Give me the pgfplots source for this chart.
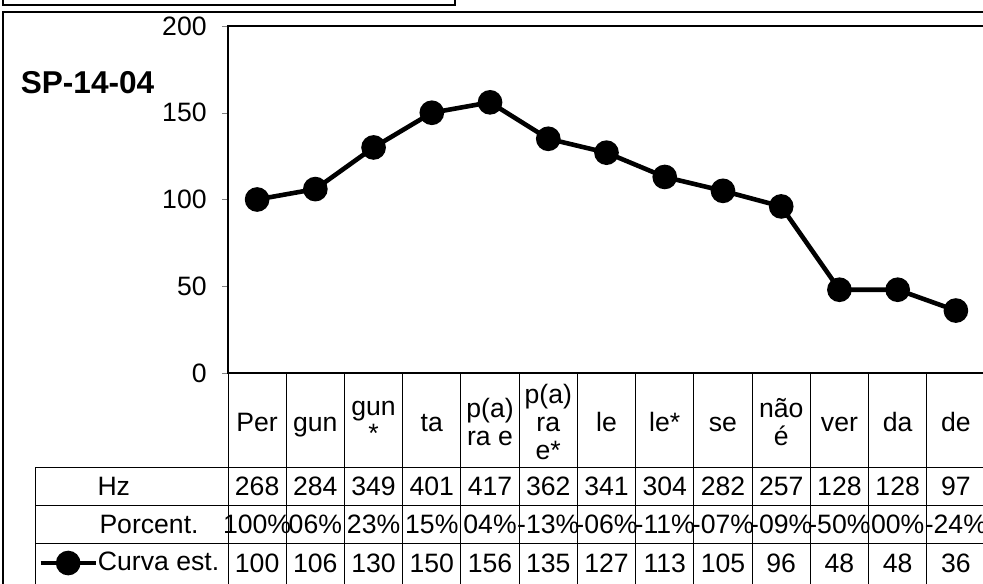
\documentclass[border=0pt]{standalone}
\usepackage{fontspec}
\setmainfont{Liberation Sans}
\usepackage{pgfplots}
\usepackage{pgfplotstable}
\pgfplotsset{compat=1.18}

% x, Hz, percentage (as printed), estimated curve
\pgfplotstableread{
x hz pct curva
0 268 100 100
1 284 06 106
2 349 23 130
3 401 15 150
4 417 04 156
5 362 -13 135
6 341 -06 127
7 304 -11 113
8 282 -07 105
9 257 -09 96
10 128 -50 48
11 128 00 48
12 97 -24 36
}\spdata

\begin{document}
\fontsize{13.3}{15.6}\selectfont
\begin{tikzpicture}
% frames and title (1 unit = 1 px of the reference)
\begin{scope}[x=0.5pt,y=-0.5pt,line width=0.8pt]
  \draw (3,-5) -- (3,5) -- (455,5) -- (455,-5);
  \draw (3,600) -- (3,12) -- (1000,12);
  \node[anchor=west,inner sep=0pt,font=\fontsize{15.8}{18}\selectfont\bfseries] at (20,83) {SP-14-04};
\end{scope}

\begin{axis}[
  at={(114pt,-186.5pt)}, anchor=south west,
  scale only axis, width=378.5pt, height=173.5pt,
  xmin=-0.5, xmax=12.5, ymin=0, ymax=200,
  clip=false,
  axis line style={line width=1pt},
  xtick={0,...,12},
  xticklabels={Per,gun,{gun\\*},ta,{p(a)\\ra e},{p(a)\\ra\\e*},le,le*,se,{não\\é},ver,da,de},
  xticklabel style={anchor=center, yshift=-23.5pt, align=center, inner sep=0pt,
    font=\fontsize{13.3}{13.8}\selectfont,
    execute at begin node=\strut, execute at end node=\strut},
  major x tick style={draw=none},
  ytick={0,50,...,200},
  ytick pos=left,
  tick align=outside,
  major tick length=3pt,
  yticklabel style={anchor=east, inner sep=0pt, xshift=-7.5pt},
  /pgf/number format/assume math mode=true,
  legend style={at={(-0.2510,-0.5476)}, anchor=west, draw=none, fill=none,
    inner sep=0pt, nodes={inner sep=0pt}, legend cell align=left},
  legend image code/.code={\draw[mark repeat=2,mark phase=2,#1] plot coordinates {(0pt,0pt)(13.75pt,0pt)(27.5pt,0pt)};},
  /tikz/every even column/.append style={column sep=0pt},
]
\addplot[black, line width=2.3pt, mark=*, mark size=5pt] table[x=x, y=curva] {\spdata};
\addlegendentry{Curva est.}

% data table rows
\addplot[draw=none, mark=none, forget plot, point meta=explicit symbolic,
  nodes near coords, nodes near coords style={anchor=base, inner sep=0pt}]
  table[x=x, y expr=-70.5, meta=hz] {\spdata};
\addplot[draw=none, mark=none, forget plot, point meta=explicit symbolic,
  nodes near coords={\pgfplotspointmeta\%}, nodes near coords style={anchor=base, inner sep=0pt}]
  table[x=x, y expr=-92.4, meta=pct] {\spdata};
\addplot[draw=none, mark=none, forget plot, point meta=explicit symbolic,
  nodes near coords, nodes near coords style={anchor=base, inner sep=0pt}]
  table[x=x, y expr=-114.9, meta=curva] {\spdata};
\end{axis}

% table grid
\begin{scope}[x=0.5pt,y=-0.5pt,line width=0.5pt]
  \foreach \i in {0,...,13} \draw (228+58.23*\i,373) -- (228+58.23*\i,600);
  \foreach \yy in {467,505,543} \draw (35,\yy) -- (1000,\yy);
  \draw (35,467) -- (35,600);
  \node[anchor=base west,inner sep=0pt] at (97,495.3) {Hz};
  \node[anchor=base west,inner sep=0pt] at (99,533.3) {Porcent.};
\end{scope}

\pgfresetboundingbox
\path[use as bounding box] (0,0) rectangle (491.5pt,-291.5pt);
\end{tikzpicture}
\end{document}
